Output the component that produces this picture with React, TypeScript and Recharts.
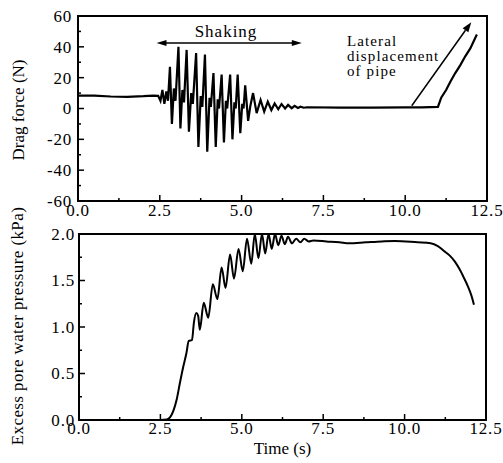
import React from 'react';
import { LineChart, Line, XAxis, YAxis, ReferenceArea, ReferenceLine } from 'recharts';

const FONT = '"Liberation Serif", "Times New Roman", serif';

// time axis ticks (s)
const timeMajor = [0, 2.5, 5, 7.5, 10, 12.5];
const timeTicks = [0, 1.25, 2.5, 3.75, 5, 6.25, 7.5, 8.75, 10, 11.25, 12.5];

// top panel: drag force (N)
const forceMajor = [-60, -40, -20, 0, 20, 40, 60];
const forceTicks = [-60, -50, -40, -30, -20, -10, 0, 10, 20, 30, 40, 50, 60];
const dragTime = [
  0, 0.5, 1.0, 1.5, 2.0, 2.3, 2.45, 2.52, 2.58, 2.64,
  2.70, 2.75, 2.81, 2.87, 2.93, 2.98, 3.07, 3.13, 3.19, 3.24,
  3.32, 3.39, 3.46, 3.51, 3.61, 3.68, 3.75, 3.80, 3.88, 3.95,
  4.02, 4.06, 4.14, 4.21, 4.27, 4.31, 4.39, 4.46, 4.52, 4.56,
  4.65, 4.72, 4.78, 4.82, 4.88, 4.96, 5.02, 5.06, 5.11, 5.20,
  5.27, 5.35, 5.46, 5.58, 5.69, 5.80, 5.91, 6.01, 6.12, 6.22,
  6.33, 6.42, 6.53, 6.62, 6.72, 6.80, 6.90, 7.0, 8.0, 9.0,
  10.0, 10.5, 11.0, 11.05, 11.1, 11.25, 11.38, 11.53, 11.68, 11.84,
  11.99, 12.1, 12.19,
];
const dragForce = [
  8.3, 8.4, 7.8, 7.6, 8.0, 8.4, 8.2, 5, 12, 3,
  11, 5, 27, -10, 13, 5, 40, -13, 12, 4,
  38, -15, 10, 3, 36, -25, 8, 1, 35, -28,
  7, 1, 23, -25, 6, 0, 22, -22, 5, 0,
  22, -20, 4, 0, 22, -16, 3, 0, 15, -8,
  2, 10, -3, 5.5, -2, 4.4, -1, 3.3, -0.5, 2.9,
  0, 2.3, 0.2, 1.7, 0.4, 1.2, 0.5, 0.8, 0.6, 0.6,
  0.7, 0.7, 1.0, 4, 7, 12, 17.4, 23, 28, 34,
  39, 44, 48,
];

// bottom panel: excess pore water pressure (kPa)
const pressureMajor = [0, 0.5, 1, 1.5, 2];
const pressureTicks = [0, 0.25, 0.5, 0.75, 1, 1.25, 1.5, 1.75, 2];
const poreTime = [
  0, 1.0, 2.0, 2.5, 2.7, 2.8, 2.9, 3.0, 3.1, 3.2,
  3.3, 3.37, 3.47, 3.53, 3.60, 3.66, 3.71, 3.83, 3.97, 4.11,
  4.25, 4.38, 4.50, 4.64, 4.76, 4.90, 5.03, 5.16, 5.29, 5.40,
  5.51, 5.62, 5.72, 5.82, 5.92, 6.02, 6.12, 6.22, 6.32, 6.42,
  6.54, 6.67, 6.80, 6.92, 7.05, 7.2, 7.6, 8.0, 8.3, 8.8,
  9.3, 9.7, 10.4, 10.8, 11.02, 11.2, 11.38, 11.55, 11.69, 11.82,
  11.94, 12.05, 12.13,
];
const porePressure = [
  0, 0, 0, 0, 0.005, 0.03, 0.1, 0.22, 0.4, 0.57,
  0.72, 0.85, 0.86, 1.05, 1.15, 1.12, 0.97, 1.26, 1.10, 1.46,
  1.30, 1.64, 1.42, 1.78, 1.52, 1.84, 1.60, 1.95, 1.68, 2.0,
  1.74, 2.0, 1.79, 2.0, 1.84, 2.0, 1.88, 1.98, 1.89, 1.97,
  1.90, 1.95, 1.91, 1.95, 1.92, 1.93, 1.92, 1.91, 1.90, 1.91,
  1.92, 1.925, 1.91, 1.90, 1.87, 1.82, 1.77, 1.70, 1.62, 1.53,
  1.44, 1.34, 1.24,
];

const dragData = dragTime.map((t, i) => ({ t, f: dragForce[i] }));
const poreData = poreTime.map((t, i) => ({ t, p: porePressure[i] }));

const isIn = (v: number, list: number[]) => list.some(m => Math.abs(m - v) < 1e-6);

const makeXTick = (labelDy: number) => (props: any) => {
  const { x, y, payload } = props;
  const major = isIn(payload.value, timeMajor);
  return (
    <g>
      <line x1={x} y1={y} x2={x} y2={y - (major ? 6 : 3)} stroke="#000" strokeWidth={1.5} />
      {major && (
        <text x={x} y={y + labelDy} textAnchor="middle" fontSize={17} letterSpacing={0.8} fontFamily={FONT} fill="#000">
          {Number(payload.value).toFixed(1)}
        </text>
      )}
    </g>
  );
};

const makeYTick = (majors: number[], fmt: (v: number) => string, gap: number) => (props: any) => {
  const { x, y, payload } = props;
  const major = isIn(payload.value, majors);
  return (
    <g>
      <line x1={x} y1={y} x2={x + (major ? 6 : 3)} y2={y} stroke="#000" strokeWidth={1.5} />
      {major && (
        <text x={x - gap} y={y} dy="0.35em" textAnchor="end" fontSize={17} letterSpacing={0.8} fontFamily={FONT} fill="#000">
          {fmt(payload.value)}
        </text>
      )}
    </g>
  );
};

const DoubleArrow = (props: any) => {
  const { x1, y1, x2, y2 } = props;
  return (
    <g>
      <line x1={x1 + 4} y1={y1} x2={x2 - 4} y2={y2} stroke="#000" strokeWidth={1.5} />
      <polygon points={`${x1},${y1} ${x1 + 10},${y1 - 3} ${x1 + 10},${y1 + 3}`} fill="#000" />
      <polygon points={`${x2},${y2} ${x2 - 10},${y2 - 3} ${x2 - 10},${y2 + 3}`} fill="#000" />
    </g>
  );
};

const SingleArrow = (props: any) => {
  const { x1, y1, x2, y2 } = props;
  const dx = x2 - x1;
  const dy = y2 - y1;
  const len = Math.sqrt(dx * dx + dy * dy);
  const ux = dx / len;
  const uy = dy / len;
  const bx = x2 - ux * 10;
  const by = y2 - uy * 10;
  return (
    <g>
      <line x1={x1} y1={y1} x2={bx} y2={by} stroke="#000" strokeWidth={1.5} />
      <polygon
        points={`${x2},${y2} ${bx - uy * 3.5},${by + ux * 3.5} ${bx + uy * 3.5},${by - ux * 3.5}`}
        fill="#000"
      />
    </g>
  );
};

export default function App() {
  return (
    <div style={{ position: 'absolute', left: 0, top: 0, width: 503, height: 463, background: '#fff', fontFamily: FONT }}>
      <div style={{ position: 'absolute', left: 0, top: 0 }}>
        <LineChart width={503} height={225} data={dragData} margin={{ top: 16, right: 16, bottom: 0, left: 0 }}>
          <XAxis
            dataKey="t"
            type="number"
            domain={[0, 12.5]}
            ticks={timeTicks}
            interval={0}
            height={24}
            tickSize={0}
            tickMargin={0}
            tickLine={false}
            axisLine={{ stroke: '#000', strokeWidth: 2 }}
            tick={makeXTick(15)}
          />
          <YAxis
            type="number"
            domain={[-60, 60]}
            ticks={forceTicks}
            interval={0}
            width={78}
            tickSize={0}
            tickMargin={0}
            tickLine={false}
            axisLine={{ stroke: '#000', strokeWidth: 2 }}
            tick={makeYTick(forceMajor, v => String(v), 6)}
          />
          <ReferenceArea x1={0} x2={12.5} y1={-60} y2={60} fill="none" stroke="#000" strokeWidth={2} />
          <ReferenceLine
            segment={[{ x: 2.4, y: 42.5 }, { x: 6.84, y: 42.5 }]}
            shape={DoubleArrow}
          />
          <ReferenceLine
            segment={[{ x: 10.2, y: 1.8 }, { x: 12.02, y: 56 }]}
            shape={SingleArrow}
          />
          <Line
            type="linear"
            dataKey="f"
            stroke="#000"
            strokeWidth={2.2}
            dot={false}
            isAnimationActive={false}
          />
        </LineChart>
      </div>
      <div style={{ position: 'absolute', left: 0, top: 225 }}>
        <LineChart width={503} height={238} data={poreData} margin={{ top: 9, right: 17, bottom: 0, left: 0 }}>
          <XAxis
            dataKey="t"
            type="number"
            domain={[0, 12.5]}
            ticks={timeTicks}
            interval={0}
            height={43}
            tickSize={0}
            tickMargin={0}
            tickLine={false}
            axisLine={{ stroke: '#000', strokeWidth: 2 }}
            tick={makeXTick(14)}
            label={{
              value: 'Time (s)',
              position: 'insideBottom',
              offset: 9,
              style: { fontSize: 17, fontFamily: FONT, fill: '#000', textAnchor: 'middle' },
            }}
          />
          <YAxis
            type="number"
            domain={[0, 2]}
            ticks={pressureTicks}
            interval={0}
            width={79}
            tickSize={0}
            tickMargin={0}
            tickLine={false}
            axisLine={{ stroke: '#000', strokeWidth: 2 }}
            tick={makeYTick(pressureMajor, v => Number(v).toFixed(1), 4)}
          />
          <ReferenceArea x1={0} x2={12.5} y1={0} y2={2} fill="none" stroke="#000" strokeWidth={2} />
          <Line
            type="monotone"
            dataKey="p"
            stroke="#000"
            strokeWidth={2}
            dot={false}
            isAnimationActive={false}
          />
        </LineChart>
      </div>
      <svg width={503} height={463} style={{ position: 'absolute', left: 0, top: 0, pointerEvents: 'none' }}>
        <g fontSize={17} fontFamily={FONT} fill="#000" textAnchor="middle">
          <text x={0} y={0} transform="translate(24,110) rotate(-90)">Drag force (N)</text>
          <text x={0} y={0} letterSpacing={0.4} transform="translate(23,326) rotate(-90)">
            Excess pore water pressure (kPa)
          </text>
        </g>
        <text x={226} y={37} textAnchor="middle" fontSize={17} letterSpacing={1} fontFamily={FONT} fill="#000">
          Shaking
        </text>
        <g fontSize={15} letterSpacing={1.1} fontFamily={FONT} fill="#000">
          <text x={347} y={46}>Lateral</text>
          <text x={347} y={61}>displacement</text>
          <text x={347} y={76}>of pipe</text>
        </g>
      </svg>
    </div>
  );
}
